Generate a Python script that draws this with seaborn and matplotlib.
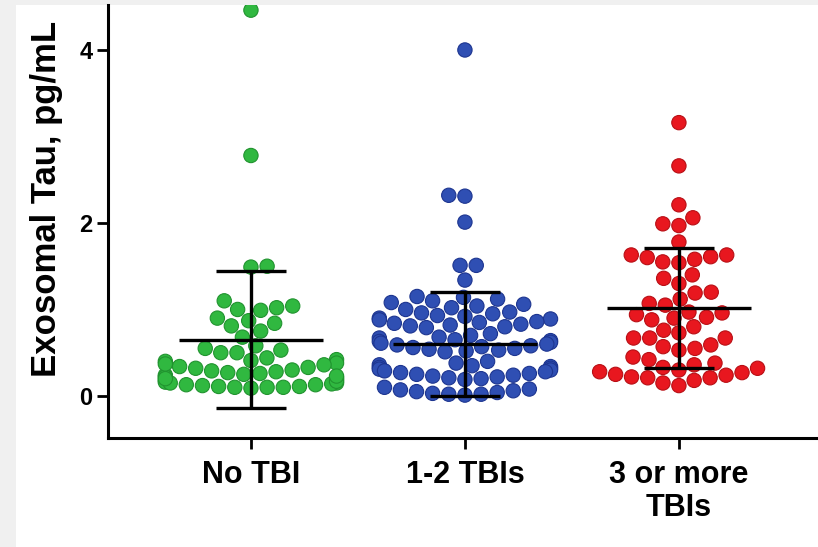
import numpy as np
import pandas as pd
import matplotlib
matplotlib.use("Agg")
import matplotlib.pyplot as plt
import seaborn as sns
from matplotlib.patches import Rectangle

# ---------------- data ----------------
categories = ["No TBI", "1-2 TBIs", "3 or more\nTBIs"]

no_tbi = [4.46, 2.78, 1.50, 1.49, 1.10, 1.04, 1.02, 1.00, 0.99, 0.90, 0.87, 0.84,
          0.81, 0.75, 0.68, 0.58, 0.55, 0.53, 0.50, 0.50, 0.44, 0.42, 0.40, 0.38,
          0.36, 0.34, 0.32, 0.30, 0.28, 0.27, 0.25, 0.24, 0.22, 0.21, 0.19, 0.18,
          0.16, 0.15, 0.14, 0.13, 0.12, 0.11, 0.10, 0.10, 0.09, 0.10, 0.11,
          0.13, 0.15, 0.17, 0.20, 0.23, 0.26, 0.29, 0.33, 0.37, 0.41]

tbi_1_2 = [4.00, 2.32, 2.31, 2.01, 1.51, 1.51, 1.34,
           1.15, 1.14, 1.12, 1.10, 1.08, 1.06, 1.04, 1.02, 1.00,
           0.97, 0.96, 0.95, 0.93, 0.92, 0.90, 0.89, 0.88, 0.86, 0.85, 0.84,
           0.83, 0.82, 0.81, 0.80, 0.79,
           0.72, 0.70, 0.68, 0.67, 0.65, 0.64, 0.63, 0.62, 0.61, 0.60, 0.59,
           0.58, 0.57, 0.56, 0.55, 0.54, 0.53, 0.52, 0.51,
           0.40, 0.38, 0.36, 0.35, 0.34, 0.33, 0.32, 0.31, 0.30, 0.29, 0.28,
           0.27, 0.26, 0.25, 0.24, 0.23, 0.22, 0.21, 0.20, 0.19,
           0.10, 0.08, 0.07, 0.06, 0.05, 0.04, 0.03, 0.02, 0.02, 0.01]

tbi_3_plus = [3.16, 2.66, 2.21, 2.06, 1.99, 1.97, 1.78, 1.63, 1.63, 1.61, 1.60,
              1.58, 1.55, 1.54, 1.40, 1.36, 1.30, 1.20, 1.19, 1.12, 1.07, 1.05,
              0.97, 0.96, 0.94, 0.91, 0.90, 0.88, 0.80, 0.76, 0.73, 0.67, 0.67,
              0.67, 0.59, 0.57, 0.55, 0.53, 0.45, 0.42, 0.38, 0.36, 0.33, 0.32,
              0.30, 0.28, 0.27, 0.25, 0.24, 0.22, 0.21, 0.21, 0.18, 0.15, 0.12]

group_means = [0.65, 0.60, 1.015]
group_sds = [0.79, 0.60, 0.695]

y_ticks = [0, 2, 4]
colors = ["#30b840", "#2f4fb3", "#e8171f"]
edge_colors = ["#21932f", "#1d3590", "#b80f15"]

# ---------------- figure ----------------
sns.set_theme(style="ticks")
plt.rcParams["font.family"] = ["Liberation Sans", "DejaVu Sans"]
plt.rcParams["font.weight"] = "bold"
plt.rcParams["text.color"] = "black"
plt.rcParams["axes.labelcolor"] = "black"

W, H = 818, 547
fig = plt.figure(figsize=(W / 100, H / 100), dpi=100, facecolor="#f0f0f0")
fig.patches.append(Rectangle((16 / W, 0), 1 - 16 / W, 1 - 5 / H,
                             transform=fig.transFigure, facecolor="white",
                             edgecolor="none", zorder=-10))

ax = fig.add_axes([108 / W, 1 - 438 / H, 1 - 108 / W, (438 - 5) / H])
ax.set_facecolor("none")
ax.set_zorder(5)

df = pd.DataFrame({
    "group": [categories[0]] * len(no_tbi) + [categories[1]] * len(tbi_1_2)
             + [categories[2]] * len(tbi_3_plus),
    "value": no_tbi + tbi_1_2 + tbi_3_plus,
})

sns.swarmplot(data=df, x="group", y="value", hue="group", order=categories,
              hue_order=categories, palette=colors, size=10.3, linewidth=0.8,
              legend=False, ax=ax, zorder=2, warn_thresh=1.0)
for coll, ec in zip(ax.collections, edge_colors):
    coll.set_edgecolor(ec)

# mean +/- SD bars
for i, (m, s) in enumerate(zip(group_means, group_sds)):
    ax.hlines(m, i - 0.335, i + 0.335, color="black", lw=2.4, zorder=4)
    ax.vlines(i, m - s, m + s, color="black", lw=2.4, zorder=4)
    ax.hlines([m - s, m + s], i - 0.165, i + 0.165, color="black", lw=2.4, zorder=4)

ax.set_xlim(-0.668, 2.65)
ax.set_ylim(-0.486, 4.52)
ax.set_yticks(y_ticks)
ax.set_yticklabels([str(t) for t in y_ticks], fontsize=17, fontweight="bold")
ax.set_xticks(range(len(categories)))
ax.set_xticklabels(categories, fontsize=22, fontweight="bold", linespacing=1.12)
ax.set_xlabel("")
ax.set_ylabel("Exosomal Tau, pg/mL", fontsize=25, fontweight="bold", color="black")
ax.yaxis.set_label_coords(-0.063, 0.552)

sns.despine(ax=ax)
for sp in ["left", "bottom"]:
    ax.spines[sp].set_linewidth(2.2)
    ax.spines[sp].set_color("black")
ax.tick_params(axis="both", width=2.0, length=8, color="black", labelcolor="black")
ax.tick_params(axis="x", pad=8)
ax.tick_params(axis="y", pad=3)

fig.savefig("out.png", dpi=100, facecolor=fig.get_facecolor())
